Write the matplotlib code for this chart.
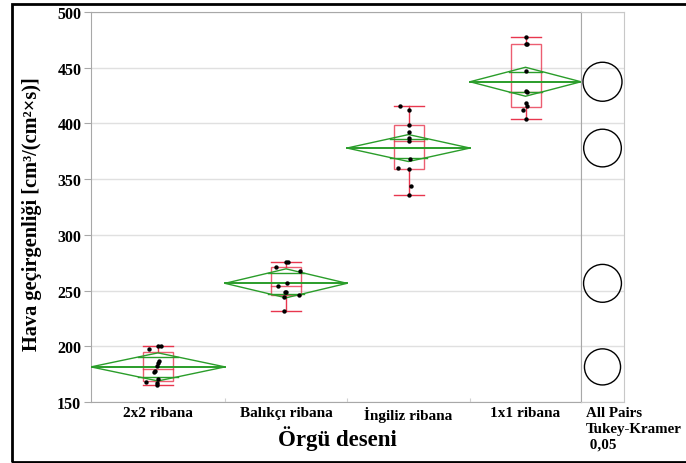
"""Air permeability by knit pattern - JMP style oneway plot."""

import matplotlib
matplotlib.use("Agg")
import matplotlib.pyplot as plt
import numpy as np
from matplotlib.patches import Circle, Polygon, Rectangle

plt.rcParams["font.family"] = ["Liberation Serif", "DejaVu Serif"]
plt.rcParams["font.weight"] = "bold"

categories = ["2x2 ribana", "Balıkçı ribana", "İngiliz ribana", "1x1 ribana"]
ribana_2x2 = [200, 200, 198, 187, 185, 182, 178, 177, 171, 168, 167, 165]
balikci = [276, 276, 271, 268, 256.5, 254, 249, 249, 246, 244, 232]
ingiliz = [416, 412, 399, 392, 387, 384, 368, 360, 359, 344, 336]
ribana_1x1 = [478, 471, 471, 447, 429, 428, 418, 416, 412, 404]
ci_half = [12.6, 13.0, 12.1, 13.0]      # mean diamond half heights
circle_r = [16.2, 17.0, 16.9, 17.5]     # Tukey-Kramer circle radii

groups = [ribana_2x2, balikci, ingiliz, ribana_1x1]

# layout (pixels)
W, H = 686, 464
edges = [0, 134, 256, 379, 490]
jitter = [
    [0, 3, -9, 1, 0, -1, -3, -4, 0, -12, -1, -1],
    [2, 0, -10, 14, 1, -8, 0, -1, 13, -2, -2],
    [-9, 0, 0, 0, 0, 0, 1, -11, 0, 2, 0],
    [0, 0, 1, 0, 0, 1, 0, 1, -3, 0],
]
GREEN = "#2a9d2a"
RED = "#e8364e"
GRAY = "#a8a8a8"

fig = plt.figure(figsize=(W / 100, H / 100), dpi=100)
ax = fig.add_axes([91 / W, 1 - 403 / H, 490 / W, 390 / H])
axc = fig.add_axes([581 / W, 1 - 403 / H, 43 / W, 390 / H])

for i, vals in enumerate(groups):
    vals = np.array(vals, dtype=float)
    left, right = edges[i], edges[i + 1]
    c = (left + right) / 2
    hw = (right - left) / 2
    mean = vals.mean()
    ci = ci_half[i]

    # means diamond
    ax.add_patch(Polygon([(left, mean), (c, mean + ci), (right, mean), (c, mean - ci)],
                         closed=True, fill=False, edgecolor=GREEN, lw=1.0, zorder=3))
    ax.plot([left, right], [mean, mean], color=GREEN, lw=1.4, zorder=3)
    k = 1 / np.sqrt(2)
    for s in (1, -1):
        ax.plot([c - hw * (1 - k), c + hw * (1 - k)], [mean + s * ci * k] * 2,
                color=GREEN, lw=1.0, zorder=3)

    # box plot
    q1, med, q3 = np.percentile(vals, [25, 50, 75], method="weibull")
    bw = 15
    ax.add_patch(Rectangle((c - bw, q1), 2 * bw, q3 - q1, fill=False,
                           edgecolor=RED, lw=1.0, alpha=0.8, zorder=2))
    ax.plot([c - bw, c + bw], [med, med], color=RED, lw=1.0, alpha=0.8, zorder=2)
    ax.plot([c, c], [q3, vals.max()], color=RED, lw=1.0, zorder=2)
    ax.plot([c, c], [q1, vals.min()], color=RED, lw=1.0, zorder=2)
    for v in (vals.max(), vals.min()):
        ax.plot([c - bw, c + bw], [v, v], color=RED, lw=1.0, zorder=2)

    # raw points
    ax.scatter(c + np.array(jitter[i]), vals, s=10, color="black", zorder=4, linewidths=0)

    # comparison circle
    axc.add_patch(Circle((43 * 350 / 390 / 2, mean), circle_r[i], fill=False,
                         edgecolor="black", lw=1.0))

ax.set_xlim(0, 490)
ax.set_ylim(150, 500)
ax.set_yticks(range(150, 501, 50))
ax.set_xticks(edges[1:-1])
ax.set_xticklabels([])
ax.set_xticks([(edges[i] + edges[i + 1]) / 2 for i in range(4)], minor=True)
ax.set_xticklabels(categories, minor=True, fontsize=11, fontweight="bold")
ax.tick_params(axis="x", which="major", direction="in", length=3, color="#d0d0d0")
ax.tick_params(axis="x", which="minor", length=0, pad=3)
ax.tick_params(axis="y", direction="out", length=5, color=GRAY, labelsize=11.5, pad=2)
for lab in ax.get_yticklabels():
    lab.set_fontweight("bold")
ax.grid(axis="y", color="#e0e0e0", lw=1.0, zorder=0)
ax.set_axisbelow(True)
for sp in ax.spines.values():
    sp.set_color(GRAY)

axc.set_xlim(0, 43 * 350 / 390)
axc.set_ylim(150, 500)
axc.set_yticks(range(150, 501, 50))
axc.set_xticks([])
axc.tick_params(axis="y", length=0, labelleft=False)
axc.grid(axis="y", color="#e0e0e0", lw=1.0)
axc.set_axisbelow(True)
for sp in axc.spines.values():
    sp.set_color("#c8c8c8")
axc.spines["left"].set_color(GRAY)

fig.text(32 / W, 1 - 214 / H, "Hava geçirgenliği [cm³/(cm²×s)]", rotation=90,
         ha="center", va="center", fontsize=14.7, fontweight="bold")
fig.text(337 / W, 1 - 439 / H, "Örgü deseni", ha="center", va="center",
         fontsize=16.5, fontweight="bold")
fig.text(586 / W, 1 - 407 / H, "All Pairs\nTukey-Kramer\n 0,05", ha="left", va="top",
         fontsize=10.8, fontweight="bold", linespacing=1.3)

# outer frame
fig.patches.append(Rectangle((12 / W, 1 / H), 1, 1 - 6 / H, transform=fig.transFigure,
                             fill=False, edgecolor="black", lw=2.0))

fig.savefig("out.png", dpi=100)
